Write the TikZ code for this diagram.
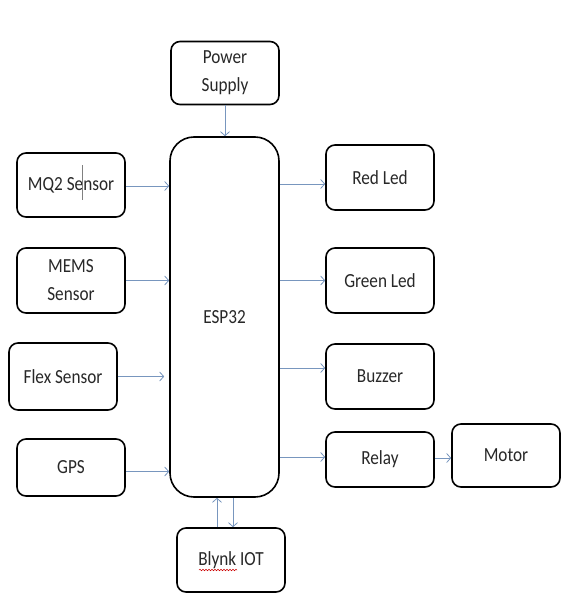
\documentclass[tikz,border=0pt]{standalone}
\usepackage{fontspec}
\setmainfont[FakeStretch=0.86]{Carlito}
\usetikzlibrary{arrows.meta,decorations.pathmorphing}
\definecolor{arrc}{RGB}{120,150,190}
\definecolor{txt}{RGB}{40,40,40}
\tikzset{
  blk/.style={draw=black, line width=1.6pt, rounded corners=9pt, fill=white,
    minimum width=108pt, inner sep=0pt, align=center, text=txt,
    font=\fontsize{20pt}{28pt}\selectfont},
  arr/.style={draw=arrc, line width=0.8pt, -{Straight Barb[length=4pt,width=9pt]}}
}
\begin{document}
\begin{tikzpicture}[x=1pt,y=-1pt]
\useasboundingbox (0,0) rectangle (577,594);
\node[blk, minimum height=63pt] (pow) at (225,73) {Power\\Supply};
\node[blk, minimum width=109pt, minimum height=360pt, rounded corners=24pt] (esp) at (224.5,317) {ESP32};
\node[blk, minimum height=64pt] (mq2) at (71,185) {MQ2 Sensor};
\node[blk, minimum height=65pt] (mems) at (71,280.5) {MEMS\\Sensor};
\node[blk, minimum height=67pt] (flex) at (63,376.5) {Flex Sensor};
\node[blk, minimum height=57pt] (gps) at (71,467.5) {GPS};
\node[blk, minimum height=65pt] (red) at (380,177.5) {Red Led};
\node[blk, minimum height=65pt] (green) at (380,280.5) {Green Led};
\node[blk, minimum height=65pt] (buz) at (380,376.5) {Buzzer};
\node[blk, minimum height=55pt] (relay) at (380,459.5) {Relay};
\node[blk, minimum height=63pt] (motor) at (506,455.5) {Motor};
\node[blk, minimum height=64pt] (blynk) at (231,560) {Blynk IOT};
% cursor mark in MQ2 label
\coordinate (cur1) at (82,165);
\coordinate (cur2) at (82,200);
\draw[gray, line width=0.6pt] (cur1) -- (cur2);
% spell-check underline
\coordinate (sq1) at (199,570);
\coordinate (sq2) at (237,570);
\draw[red!80!black, line width=0.5pt, decorate, decoration={snake, amplitude=0.8pt, segment length=3pt}] (sq1) -- (sq2);
% connectors
\draw[arr] (pow.south) -- (pow.south |- esp.north);
\draw[arr] ([yshift=-1pt]mq2.east) -- ([yshift=-1pt]esp.west |- mq2.east);
\draw[arr] (mems.east) -- (esp.west |- mems.east);
\draw[arr, shorten >=5pt] (flex.east) -- (esp.west |- flex.east);
\draw[arr] ([yshift=-4pt]gps.east) -- ([yshift=-4pt]esp.west |- gps.east);
\draw[arr] ([yshift=-6.5pt]esp.east |- red.west) -- ([yshift=-6.5pt]red.west);
\draw[arr] (esp.east |- green.west) -- (green.west);
\draw[arr] ([yshift=8.5pt]esp.east |- buz.west) -- ([yshift=8.5pt]buz.west);
\draw[arr] ([yshift=2.5pt]esp.east |- relay.west) -- ([yshift=2.5pt]relay.west);
\draw[arr] ([yshift=1.5pt]relay.east) -- ([yshift=1.5pt]motor.west |- relay.east);
\draw[arr] ([xshift=-7.5pt]esp.south |- blynk.north) -- ([xshift=-7.5pt]esp.south);
\draw[arr] ([xshift=8.5pt]esp.south) -- ([xshift=8.5pt]esp.south |- blynk.north);
\end{tikzpicture}
\end{document}
